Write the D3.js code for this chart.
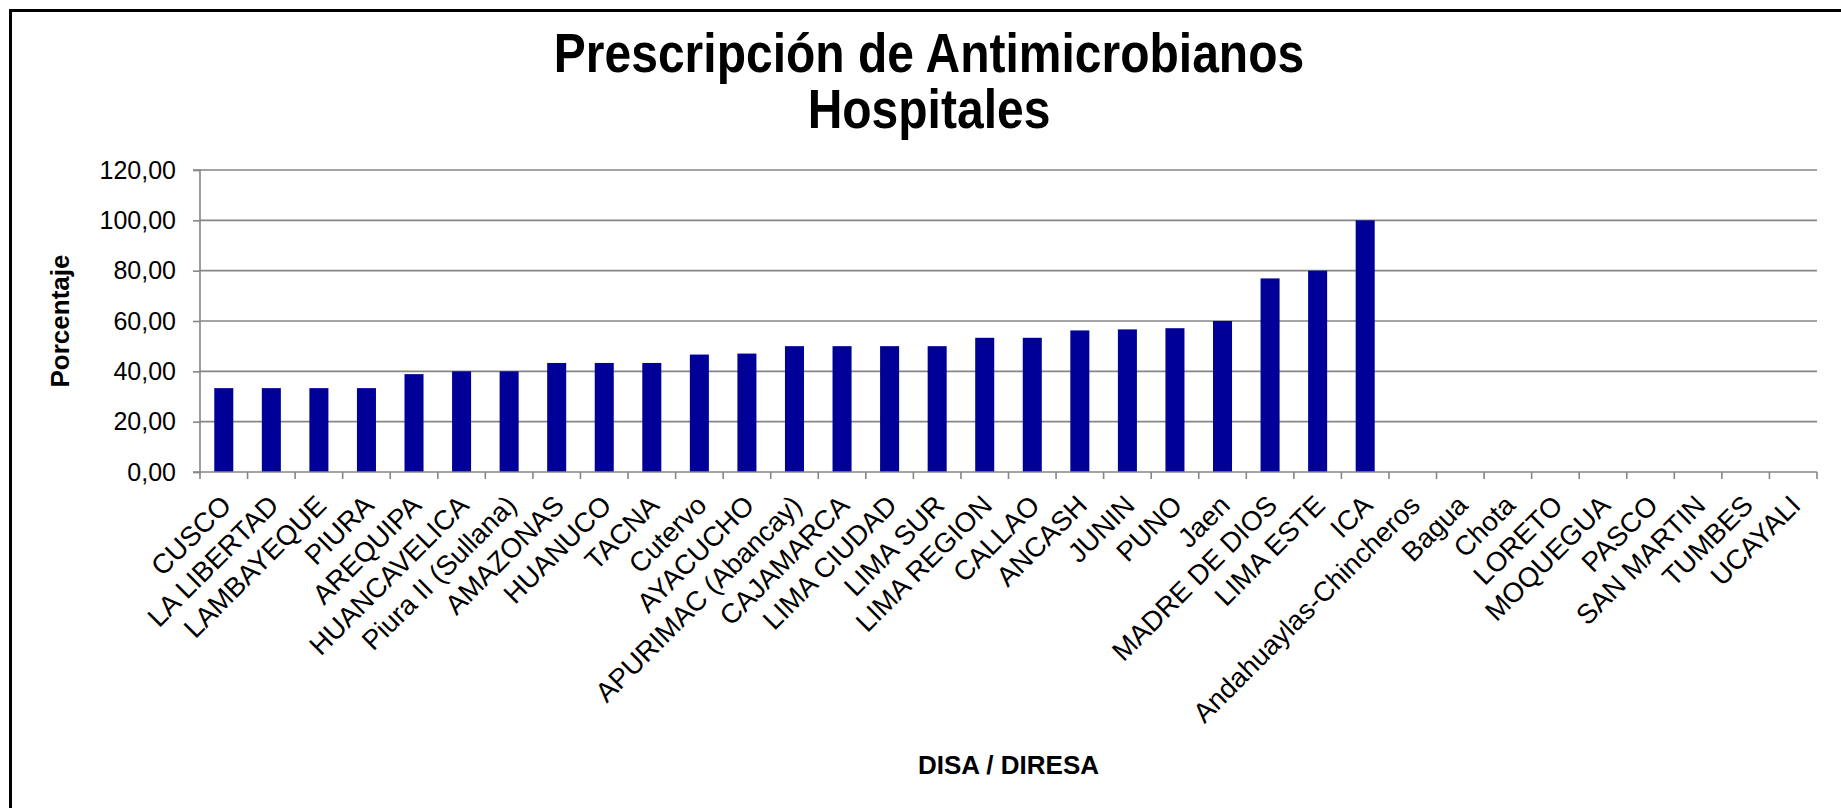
<!DOCTYPE html>
<html>
<head>
<meta charset="utf-8">
<script src="https://cdn.jsdelivr.net/npm/d3@7"></script>
<style>
  html, body { margin: 0; padding: 0; background: #fff; }
  svg { display: block; font-family: "Liberation Sans", Arial, sans-serif; }
</style>
</head>
<body>
<svg id="chart" width="1841" height="808"></svg>
<script>
const categories = ["CUSCO", "LA LIBERTAD", "LAMBAYEQUE", "PIURA", "AREQUIPA", "HUANCAVELICA",
  "Piura II (Sullana)", "AMAZONAS", "HUANUCO", "TACNA", "Cutervo", "AYACUCHO",
  "APURIMAC (Abancay)", "CAJAMARCA", "LIMA CIUDAD", "LIMA SUR", "LIMA REGION", "CALLAO",
  "ANCASH", "JUNIN", "PUNO", "Jaen", "MADRE DE DIOS", "LIMA ESTE", "ICA",
  "Andahuaylas-Chincheros", "Bagua", "Chota", "LORETO", "MOQUEGUA", "PASCO",
  "SAN MARTIN", "TUMBES", "UCAYALI"];
const values = [33.33, 33.33, 33.33, 33.33, 38.89, 40, 40, 43.33, 43.33, 43.33, 46.67, 47.06,
  50, 50, 50, 50, 53.33, 53.33, 56.25, 56.67, 57.14, 60, 76.92, 80, 100,
  0, 0, 0, 0, 0, 0, 0, 0, 0];
const yTicks = [0, 20, 40, 60, 80, 100, 120];
const titleLines = ["Prescripción de Antimicrobianos", "Hospitales"];
const yTitle = "Porcentaje";
const xTitle = "DISA / DIRESA";

(function () {
const svg = d3.select("#chart");
const pL = 200, pR = 1817, pT = 170, pB = 472;

// chart border (top and left visible; right/bottom fall outside the picture)
svg.append("rect").attr("x", 10.5).attr("y", 10.5).attr("width", 1840).attr("height", 820)
  .attr("fill", "#fff").attr("stroke", "#000").attr("stroke-width", 3);

const x = d3.scaleBand().domain(categories).range([pL, pR]).padding(0);
const y = d3.scaleLinear().domain([0, 120]).range([pB, pT]);

const gridColor = "#868686";

// gridlines
svg.append("g").selectAll("line").data(yTicks.filter(d => d > 0)).join("line")
  .attr("x1", pL).attr("x2", pR)
  .attr("y1", d => y(d)).attr("y2", d => y(d))
  .attr("stroke", gridColor).attr("stroke-width", 1.6);

// bars
const bw = x.step() * 0.4;
svg.append("g").selectAll("rect").data(categories.map((c, i) => ({c, v: values[i]})).filter(d => d.v > 0))
  .join("rect")
  .attr("x", d => x(d.c) + (x.step() - bw) / 2)
  .attr("y", d => y(d.v))
  .attr("width", bw)
  .attr("height", d => y(0) - y(d.v))
  .attr("fill", "#000099");

// y axis
const yAxis = d3.axisLeft(y).tickValues(yTicks).tickSize(7).tickPadding(17)
  .tickFormat(d => d3.format(".2f")(d).replace(".", ","));
const gy = svg.append("g").attr("transform", `translate(${pL},0)`).call(yAxis);
gy.select(".domain").attr("stroke", gridColor).attr("stroke-width", 1.6).attr("d", `M-7,${pT}H0V${pB}H-7`);
gy.selectAll(".tick line").attr("stroke", gridColor).attr("stroke-width", 1.6);
gy.selectAll(".tick text").attr("font-size", 25).attr("fill", "#000")
  .attr("font-family", "'Liberation Sans', Arial, sans-serif");

// x axis line and ticks at band boundaries
const gx = svg.append("g");
gx.append("line").attr("x1", pL).attr("x2", pR).attr("y1", pB).attr("y2", pB)
  .attr("stroke", gridColor).attr("stroke-width", 1.6);
const bounds = categories.map(c => x(c)).concat([pR]);
gx.selectAll("line.tk").data(bounds).join("line").attr("class", "tk")
  .attr("x1", d => d).attr("x2", d => d).attr("y1", pB).attr("y2", pB + 7)
  .attr("stroke", gridColor).attr("stroke-width", 1.6);

// category labels rotated -45
gx.selectAll("text").data(categories).join("text")
  .attr("transform", d => `translate(${x(d) + x.bandwidth() / 2 + 9},${pB + 35}) rotate(-45)`)
  .attr("text-anchor", "end")
  .attr("font-size", 27.5)
  .attr("fill", "#000")
  .text(d => d);

// title: one text with two lines (slightly tall lettering, as in the reference)
const title = svg.append("text").attr("transform", "translate(929,72) scale(1,1.15)")
  .attr("text-anchor", "middle").attr("font-size", 48).attr("font-weight", "bold");
title.selectAll("tspan").data(titleLines).join("tspan")
  .attr("x", 0).attr("y", (d, i) => i * 48.5)
  .text(d => d);

// axis titles
svg.append("text").attr("transform", `translate(69,${(pT + pB) / 2}) rotate(-90)`)
  .attr("text-anchor", "middle").attr("font-size", 26).attr("font-weight", "bold").text(yTitle);
svg.append("text").attr("x", (pL + pR) / 2).attr("y", 774).attr("text-anchor", "middle")
  .attr("font-size", 26).attr("font-weight", "bold").text(xTitle);
})();
</script>
</body>
</html>
